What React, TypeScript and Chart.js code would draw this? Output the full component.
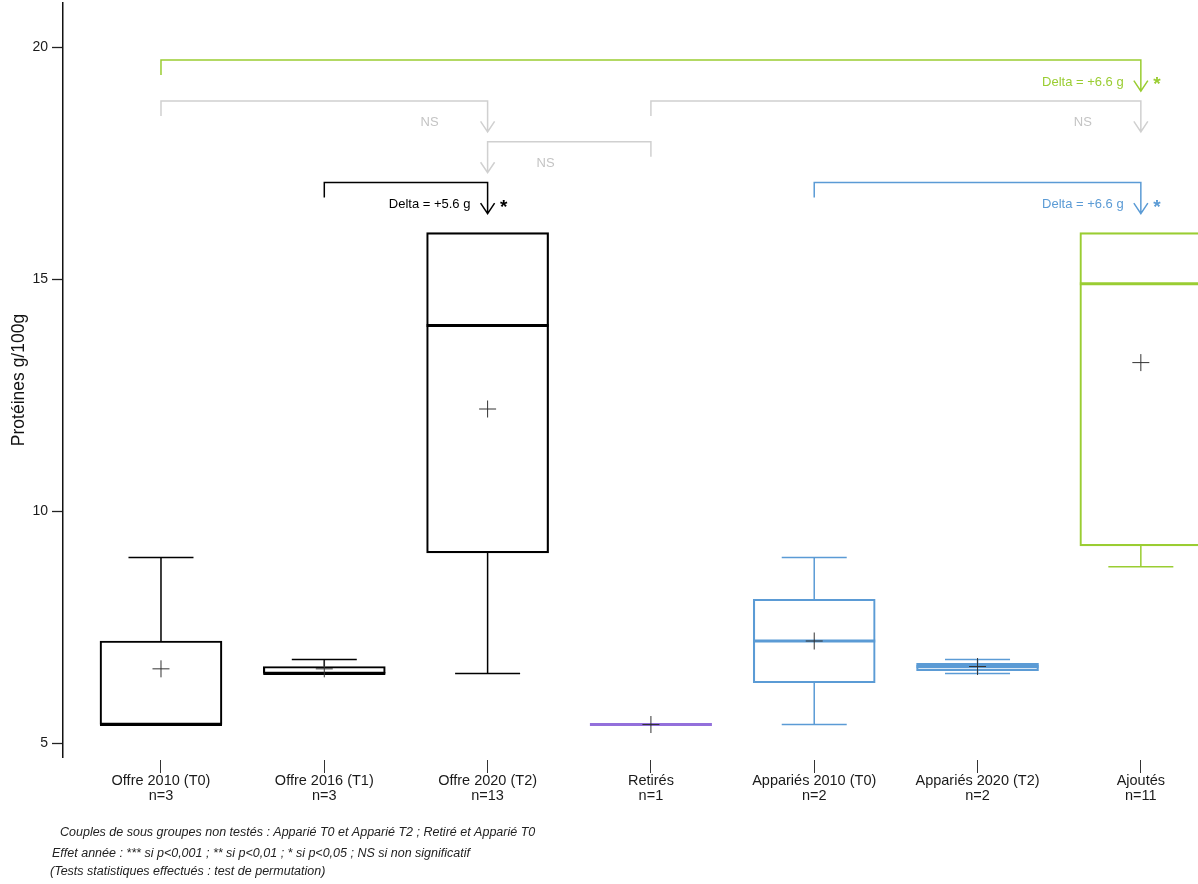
import React, { useEffect, useRef } from "react";
import { Chart, registerables } from "chart.js";

Chart.register(...registerables);

// ---------- data ----------
const categories = [
  "Offre 2010 (T0)",
  "Offre 2016 (T1)",
  "Offre 2020 (T2)",
  "Retirés",
  "Appariés 2010 (T0)",
  "Appariés 2020 (T2)",
  "Ajoutés",
];
const counts = [3, 3, 13, 1, 2, 2, 11];
const mins = [5.4, 6.5, 6.5, 5.4, 5.4, 6.5, 8.8];
const q1s = [5.4, 6.5, 9.1, 5.4, 6.3, 6.56, 9.25];
const medians = [5.4, 6.5, 14.0, 5.4, 7.2, 6.65, 14.9];
const q3s = [7.2, 6.65, 16.0, 5.4, 8.1, 6.72, 16.0];
const maxs = [9.0, 6.8, 16.0, 5.4, 9.0, 6.8, 16.0];
const means = [6.6, 6.6, 12.2, 5.4, 7.2, 6.65, 13.2];
const yTickValues = [5, 10, 15, 20];
const yTitle = "Protéines g/100g";

// comparisons: from group index -> to group index (arrow end)
const compFrom = [0, 0, 3, 3, 1, 4];
const compTo = [6, 2, 6, 2, 2, 6];
const compLabels = ["Delta = +6.6 g", "NS", "NS", "NS", "Delta = +5.6 g", "Delta = +6.6 g"];
const compSignif = ["*", "", "", "", "*", "*"];
const compLevel = [19.72, 18.84, 18.84, 17.96, 17.08, 17.08];

const footnotes = [
  "Couples de sous groupes non testés : Apparié T0 et Apparié T2 ; Retiré et Apparié T0",
  "Effet année : *** si p<0,001 ; ** si p<0,01 ; * si p<0,05 ; NS si non significatif",
  "(Tests statistiques effectués : test de permutation)",
];

// ---------- styles ----------
const BLACK = "#000000";
const BLUE = "#5B9BD5";
const PURPLE = "#9370DB";
const GREEN = "#9ACD32";
const GRAY = "#D0D0D0";
const boxColors = [BLACK, BLACK, BLACK, PURPLE, BLUE, BLUE, GREEN];
const compColors = [GREEN, GRAY, GRAY, GRAY, BLACK, BLUE];
const FONT = '"Liberation Sans", Arial, Helvetica, sans-serif';
const BOX_W = 122;
const CAP_HALF = 32.5;
const footX = [60, 52, 50];
const footY = [833, 854, 872];

const boxPlugin = {
  id: "boxWhiskers",
  afterDatasetDraw(chart: any, args: any) {
    if (args.meta.type !== "bar") return;
    const { ctx } = chart;
    const x = chart.scales.x;
    const y = chart.scales.y;
    ctx.save();
    categories.forEach((_, i) => {
      const cx = x.getPixelForValue(i + 1);
      ctx.strokeStyle = boxColors[i];
      ctx.lineWidth = 1.5;
      ctx.lineCap = "butt";
      ctx.beginPath();
      if (maxs[i] > q3s[i]) {
        const yq = y.getPixelForValue(q3s[i]);
        const ym = y.getPixelForValue(maxs[i]);
        ctx.moveTo(cx, yq);
        ctx.lineTo(cx, ym);
        ctx.moveTo(cx - CAP_HALF, ym);
        ctx.lineTo(cx + CAP_HALF, ym);
      }
      if (mins[i] < q1s[i]) {
        const yq = y.getPixelForValue(q1s[i]);
        const ym = y.getPixelForValue(mins[i]);
        ctx.moveTo(cx, yq);
        ctx.lineTo(cx, ym);
        ctx.moveTo(cx - CAP_HALF, ym);
        ctx.lineTo(cx + CAP_HALF, ym);
      }
      ctx.stroke();
      const ymed = y.getPixelForValue(medians[i]);
      ctx.lineWidth = 3;
      ctx.beginPath();
      ctx.moveTo(cx - BOX_W / 2, ymed);
      ctx.lineTo(cx + BOX_W / 2, ymed);
      ctx.stroke();
    });
    ctx.restore();
  },
};

const annotPlugin = {
  id: "annotations",
  afterDraw(chart: any) {
    const { ctx } = chart;
    const x = chart.scales.x;
    const y = chart.scales.y;
    ctx.save();
    compFrom.forEach((from, k) => {
      const to = compTo[k];
      const xF = x.getPixelForValue(from + 1);
      const xT = x.getPixelForValue(to + 1);
      const yL = y.getPixelForValue(compLevel[k]);
      const color = compColors[k];
      ctx.strokeStyle = color;
      ctx.lineWidth = 1.5;
      ctx.beginPath();
      ctx.moveTo(xF, yL + 15);
      ctx.lineTo(xF, yL);
      ctx.lineTo(xT, yL);
      ctx.lineTo(xT, yL + 31);
      ctx.moveTo(xT - 7, yL + 20.5);
      ctx.lineTo(xT, yL + 31);
      ctx.lineTo(xT + 7, yL + 20.5);
      ctx.stroke();
      const dir = xF > xT ? 1 : -1;
      ctx.fillStyle = color === GRAY ? "#C4C4C4" : color;
      ctx.font = `13px ${FONT}`;
      ctx.textAlign = "center";
      ctx.textBaseline = "middle";
      ctx.fillText(compLabels[k], xT + dir * 58, yL + 22);
      if (compSignif[k]) {
        ctx.font = `bold 19px ${FONT}`;
        ctx.textBaseline = "alphabetic";
        ctx.fillText(compSignif[k], xT - dir * 16, yL + 30);
      }
    });
    ctx.fillStyle = "#222";
    ctx.font = `italic 12.5px ${FONT}`;
    ctx.textAlign = "left";
    ctx.textBaseline = "middle";
    footnotes.forEach((t, i) => ctx.fillText(t, footX[i], footY[i]));
    ctx.restore();
  },
};

export default function App() {
  const ref = useRef<HTMLCanvasElement | null>(null);
  useEffect(() => {
    if (!ref.current) return;
    Chart.defaults.font.family = FONT;
    const chart = new Chart(ref.current, {
      type: "bar",
      data: {
        datasets: [
          {
            type: "bar",
            data: categories.map((_, i) => ({ x: i + 1, y: [q1s[i], q3s[i]] })) as any,
            backgroundColor: "rgba(255,255,255,0)",
            borderColor: boxColors,
            borderWidth: 1.5,
            borderSkipped: false,
            barThickness: BOX_W,
            grouped: false,
            order: 2,
          } as any,
          {
            type: "scatter",
            data: means.map((m, i) => ({ x: i + 1, y: m })),
            pointStyle: "cross",
            pointRadius: 8.5,
            borderColor: "#333333",
            borderWidth: 1,
            backgroundColor: "#333333",
            showLine: false,
            order: 1,
          } as any,
        ],
      },
      options: {
        animation: false,
        responsive: false,
        devicePixelRatio: 1,
        events: [],
        layout: { autoPadding: false, padding: { top: 3, left: 0, right: 0, bottom: 0 } },
        plugins: { legend: { display: false }, tooltip: { enabled: false } },
        scales: {
          x: {
            type: "linear",
            min: 0.4,
            max: 7.35,
            offset: false,
            border: { display: false },
            grid: {
              display: true,
              offset: false,
              drawOnChartArea: false,
              drawTicks: true,
              tickLength: 16,
              tickColor: "#333",
              tickWidth: 1,
              tickBorderDash: [0, 3, 13, 100],
            },
            afterBuildTicks: (axis: any) => {
              axis.ticks = categories.map((_, i) => ({ value: i + 1 }));
            },
            afterFit: (scale: any) => {
              scale.height = 127;
              scale.paddingLeft = 0;
              scale.paddingRight = 0;
            },
            ticks: {
              autoSkip: false,
              maxRotation: 0,
              minRotation: 0,
              padding: 0,
              color: "#1a1a1a",
              font: { size: 14.5, lineHeight: 1.08 },
              callback: (value: any) => {
                const i = Math.round(Number(value)) - 1;
                return [categories[i], "n=" + counts[i]];
              },
            },
          },
          y: {
            type: "linear",
            min: 4.7,
            max: 20.95,
            beginAtZero: false,
            border: { display: true, color: "#111", width: 1.5 },
            grid: {
              display: true,
              drawOnChartArea: false,
              drawTicks: true,
              tickLength: 11,
              tickColor: "#222",
              tickWidth: 1.3,
            },
            afterBuildTicks: (axis: any) => {
              axis.ticks = yTickValues.map((v) => ({ value: v }));
            },
            afterFit: (scale: any) => {
              scale.width = 63;
              scale.paddingTop = 0;
              scale.paddingBottom = 0;
            },
            ticks: {
              padding: 4,
              color: "#1a1a1a",
              font: { size: 14 },
            },
            title: {
              display: true,
              text: yTitle,
              color: "#111",
              font: { size: 17.5 },
              padding: { top: 8.5, bottom: 0 },
            },
          },
        },
      } as any,
      plugins: [boxPlugin, annotPlugin],
    });
    return () => chart.destroy();
  }, []);
  return (
    <div style={{ position: "absolute", left: 0, top: 0, width: 1198, height: 884 }}>
      <canvas ref={ref} width={1198} height={884} style={{ display: "block" }} />
    </div>
  );
}
